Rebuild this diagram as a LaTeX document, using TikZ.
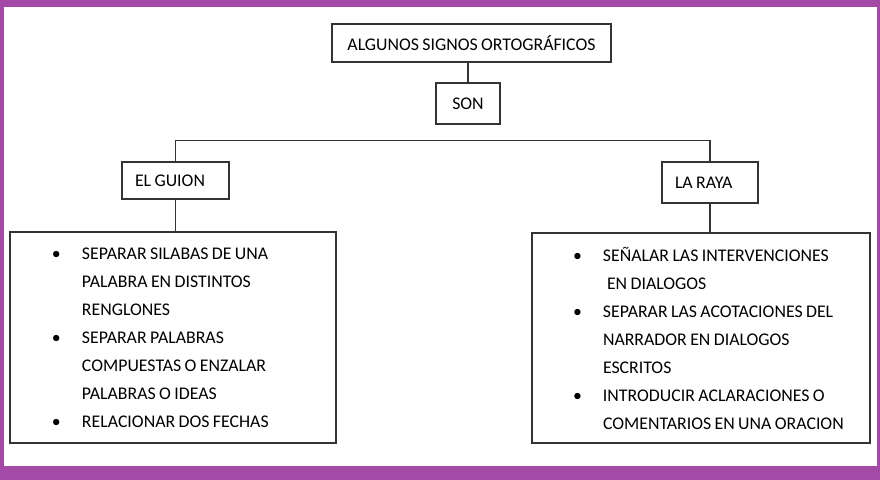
\documentclass[tikz,border=0pt]{standalone}
\usepackage{fontspec}
\setmainfont{Carlito}[WordSpace=0.85]
\definecolor{marco}{RGB}{163,74,167}
\begin{document}
\begin{tikzpicture}[x=0.5pt,y=-0.5pt,
        caja/.style={draw=black!80,line width=0.7pt,inner sep=0pt,text=black,
                font=\fontsize{8.9}{14}\selectfont},
        linea/.style={draw=black!80,line width=0.7pt}]
        \fill[marco] (0,0) rectangle (880,480);
        \fill[white] (4,7) rectangle (877,466);
        \useasboundingbox (0,0) rectangle (880,480);
        \node[caja,minimum width=139.5pt,minimum height=19pt] (top) at (471.5,43) {ALGUNOS SIGNOS ORTOGRÁFICOS};
        \node[caja,minimum width=32pt,minimum height=20.5pt] (son) at (468,103.5) {SON};
        \node[caja,minimum height=18.5pt,text width=40.5pt,inner xsep=6.5pt,align=flush left] (guion) at (175.5,180.5) {EL GUION};
        \node[caja,minimum height=20.5pt,text width=35pt,inner xsep=6.5pt,align=flush left] (raya) at (710,182.5) {LA RAYA};
        \node[caja,text width=163pt,minimum height=105.5pt,align=flush left] (lguion) at (173,337.5)
                {\hspace*{21pt}\makebox[15pt][l]{•}SEPARAR SILABAS DE UNA\\\hspace*{36pt}PALABRA EN DISTINTOS\\\hspace*{36pt}RENGLONES\\\hspace*{21pt}\makebox[15pt][l]{•}SEPARAR PALABRAS\\\hspace*{36pt}COMPUESTAS O ENZALAR\\\hspace*{36pt}PALABRAS O IDEAS\\\hspace*{21pt}\makebox[15pt][l]{•}RELACIONAR DOS FECHAS};
        \node[caja,text width=169pt,minimum height=105pt,align=flush left] (lraya) at (701,338)
                {\hspace*{20.5pt}\makebox[15pt][l]{•}SEÑALAR LAS INTERVENCIONES\\\hspace*{37.5pt}EN DIALOGOS\\\hspace*{20.5pt}\makebox[15pt][l]{•}SEPARAR LAS ACOTACIONES DEL\\\hspace*{35.5pt}NARRADOR EN DIALOGOS\\\hspace*{35.5pt}ESCRITOS\\\hspace*{20.5pt}\makebox[15pt][l]{•}INTRODUCIR ACLARACIONES O\\\hspace*{35.5pt}COMENTARIOS EN UNA ORACION};
        \draw[linea] (son.north) -- (son.north |- top.south);
        \draw[linea] (guion.north) -- ++(0,-21) -| (raya.north);
        \draw[linea] (guion.south) -- (guion.south |- lguion.north);
        \draw[linea] (raya.south) -- (raya.south |- lraya.north);
\end{tikzpicture}
\end{document}
